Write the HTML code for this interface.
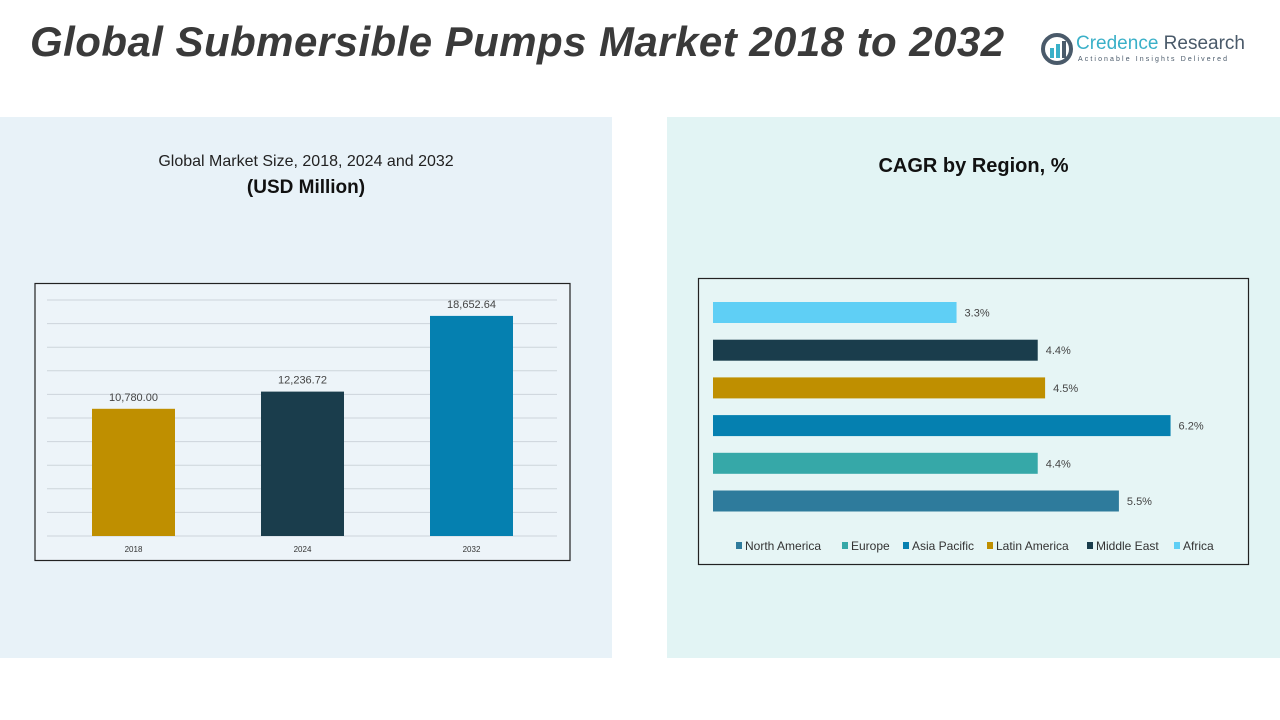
<!DOCTYPE html>
<html><head><meta charset="utf-8">
<style>
body{margin:0;width:1280px;height:720px;background:#fff;position:relative;overflow:hidden;font-family:"Liberation Sans",sans-serif;}
.abs{position:absolute;}
</style></head><body>
<div class="abs" style="left:30px;top:18px;font-size:42px;font-weight:bold;font-style:italic;color:#3a3a3a;letter-spacing:0.45px;white-space:nowrap;">Global Submersible Pumps Market 2018 to 2032</div>
<div class="abs" style="left:1040px;top:30px;width:220px;height:40px;">
 <svg width="36" height="36" style="position:absolute;left:0;top:2px"><circle cx="17" cy="17" r="14" fill="none" stroke="#4a5a6a" stroke-width="4"/><rect x="10" y="16" width="4" height="10" fill="#3ab0c8"/><rect x="16" y="12" width="4" height="14" fill="#3ab0c8"/><rect x="22" y="9" width="4" height="17" fill="#4a5a6a"/></svg>
 <div class="abs" style="left:36px;top:3px;font-size:19px;color:#3ab0c8;white-space:nowrap">Credence <span style="color:#4a5a6a">Research</span></div>
 <div class="abs" style="left:38px;top:26px;font-size:7px;color:#4a5a6a;letter-spacing:2.1px;white-space:nowrap">Actionable Insights Delivered</div>
</div>
<div class="abs" style="left:0;top:117px;width:612px;height:541px;background:#e8f2f8;"></div>
<div class="abs" style="left:667px;top:117px;width:613px;height:541px;background:#e2f4f4;"></div>
<div class="abs" style="left:0;top:153px;width:612px;text-align:center;font-size:16px;color:#222;">Global Market Size, 2018, 2024 and 2032</div>
<div class="abs" style="left:0;top:177px;width:612px;text-align:center;font-size:19px;font-weight:bold;color:#111;">(USD Million)</div>
<div class="abs" style="left:667px;top:155px;width:613px;text-align:center;font-size:20px;font-weight:bold;color:#111;">CAGR by Region, %</div>
<svg class="abs" style="left:0;top:0" width="1280" height="720" id="svg">
 <rect x="35" y="283.5" width="535" height="277" fill="#edf4f9" stroke="#222" stroke-width="1.2"/>
 <rect x="698.5" y="278.5" width="550" height="286" fill="#e6f5f5" stroke="#222" stroke-width="1.2"/>
 <g id="g1"></g><g id="g2"></g>
</svg>
<script>
const years=["2018","2024","2032"];
const sizes=[10780.00,12236.72,18652.64];
const sizeLabels=["10,780.00","12,236.72","18,652.64"];
const regions=["Africa","Middle East","Latin America","Asia Pacific","Europe","North America"];
const cagr=[3.3,4.4,4.5,6.2,4.4,5.5];
const regionColors=["#5fcff5","#1a3d4c","#bf8f00","#0580b0","#36a8a8","#2e7b9c"];
const legendOrder=["North America","Europe","Asia Pacific","Latin America","Middle East","Africa"];
const yearColors=["#bf8f00","#1a3d4c","#0580b0"];
const NS="http://www.w3.org/2000/svg";
function mk(t,a,p){const e=document.createElementNS(NS,t);for(const k in a)e.setAttribute(k,a[k]);p.appendChild(e);return e;}
const g1=document.getElementById('g1'),g2=document.getElementById('g2');
const y0=536,yTop=300,yMax=20000;
const yS=v=>y0-(v/yMax)*(y0-yTop);
const xC=i=>133.5+i*169;
for(let k=0;k<=10;k++){const y=yS(k*2000);const l=mk('line',{x1:47,x2:557,y1:y,y2:y,stroke:'#cdd5db','stroke-width':1},g1);

}
sizes.forEach((v,i)=>{
 const r=mk('rect',{x:xC(i)-41.5,y:yS(v),width:83,height:y0-yS(v),fill:yearColors[i]},g1);
 
 
 const t=mk('text',{x:xC(i),y:yS(v)-8,'text-anchor':'middle','font-size':11,fill:'#444'},g1);t.textContent=sizeLabels[i];
 
 
 const x=mk('text',{x:xC(i),y:552,'text-anchor':'middle','font-size':8,fill:'#333'},g1);x.textContent=years[i];
 
 
});
const x0=713,pxPer=73.8;
const xS=v=>x0+v*pxPer;
const yR=i=>312.5+i*37.7;
cagr.forEach((v,i)=>{
 const r=mk('rect',{x:x0,y:yR(i)-10.5,width:xS(v)-x0,height:21,fill:regionColors[i]},g2);
 
 
 const t=mk('text',{x:xS(v)+8,y:yR(i)+4,'font-size':11,fill:'#444'},g2);t.textContent=v.toFixed(1)+'%';
 
 
});
const lx=[736,842,903,987,1087,1174];
legendOrder.forEach((n,i)=>{
 const c=regionColors[regions.indexOf(n)];
 const s=mk('rect',{x:lx[i],y:542,width:6,height:7,fill:c},g2);
 
 
 const t=mk('text',{x:lx[i]+9,y:550,'font-size':12,fill:'#333'},g2);t.textContent=n;
 
 
});
</script>
</body></html>
